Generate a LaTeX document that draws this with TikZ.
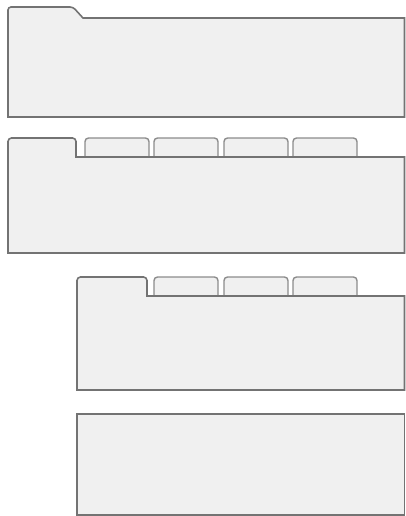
\documentclass[tikz,border=0pt]{standalone}
\begin{document}
\begin{tikzpicture}[x=1pt,y=-1pt,
  folder/.style={draw=black!55,fill=black!6,line width=1.6pt,line join=miter},
  tabbox/.style={draw=black!45,fill=black!6,line width=1.4pt,rounded corners=3.5pt}]
\useasboundingbox (0,0) rectangle (406,516);
% shape 1
\draw[folder] (8,117) -- (8,10) [rounded corners=3pt] -- (8,7) -- (73,7) [sharp corners] -- (83,18) -- (404.5,18) -- (404.5,117) -- cycle;
% shape 2
\foreach \x in {85,154,224,293}{
  \draw[tabbox] (\x,157) -- (\x,138) -- (\x+64,138) [sharp corners]-- (\x+64,157);
}
\draw[folder] (8,253) -- (8,141) [rounded corners=3.5pt] -- (8,138) -- (76,138) [sharp corners] -- (76,157) -- (404.5,157) -- (404.5,253) -- cycle;
% shape 3
\foreach \x in {154,224,293}{
  \draw[tabbox] (\x,296) -- (\x,277) -- (\x+64,277) [sharp corners]-- (\x+64,296);
}
\draw[folder] (77,390) -- (77,280) [rounded corners=3.5pt] -- (77,277) -- (147,277) [sharp corners] -- (147,296) -- (404.5,296) -- (404.5,390) -- cycle;
% shape 4
\draw[folder] (77,414) rectangle (404.5,515);
\end{tikzpicture}
\end{document}
